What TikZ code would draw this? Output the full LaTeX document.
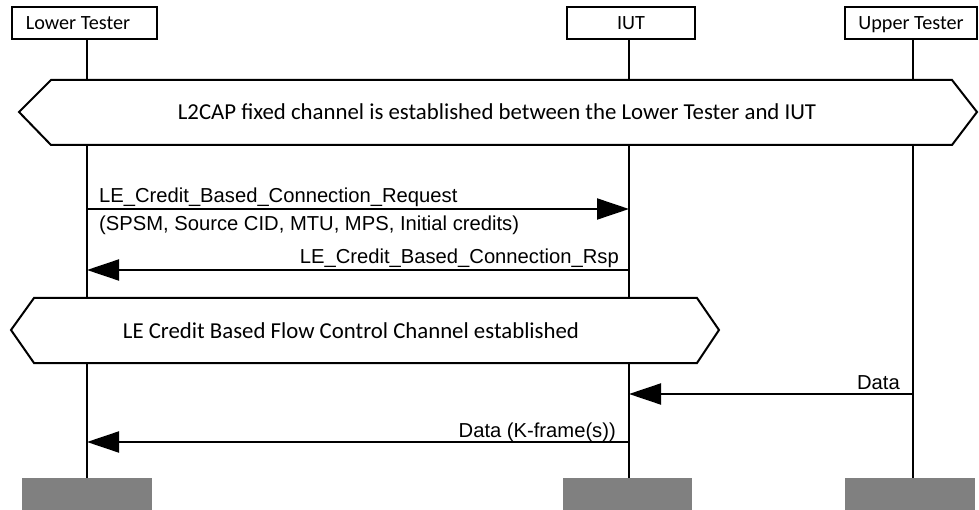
\documentclass[tikz,border=0pt]{standalone}
\usepackage{fontspec}
\setmainfont{Carlito}
\newfontfamily\arialf{Liberation Sans}
\usetikzlibrary{arrows.meta}
\begin{document}
\begin{tikzpicture}[x=1pt,y=-1pt,
  actor/.style={draw=black,line width=2pt,fill=white,minimum width=145pt,minimum height=32pt,inner sep=0pt,text height=13pt,text depth=0pt,font=\fontsize{20.2}{23}\selectfont},
  endbox/.style={fill=black!50,draw=none,minimum width=130pt,minimum height=32pt,inner sep=0pt},
  life/.style={line width=2pt},
  hexa/.style={draw=black,line width=2pt,fill=white,line join=miter},
  hextext/.style={font=\fontsize{22.8}{26}\selectfont,inner sep=0pt},
  msg/.style={line width=2pt,-{Triangle[length=32pt,width=21pt]}},
  lbl/.style={font=\arialf\fontsize{20.2}{23}\selectfont,inner sep=0pt}
]
\useasboundingbox (0,0) rectangle (979,510);
% actors
\node[actor,minimum width=145pt] (lt) at (84.5,23) {\hspace*{-13pt}Lower Tester};
\node[actor,minimum width=128pt] (iut) at (631,23) {IUT};
\node[actor,minimum width=132pt] (ut) at (911,23) {Upper Tester};
% end boxes
\node[endbox,minimum width=130pt,anchor=north west] (ltend) at (22,478) {};
\node[endbox,minimum width=129pt,anchor=north west] (iutend) at (563,478) {};
\node[endbox,minimum width=130pt,anchor=north west] (utend) at (845,478) {};
% lifeline x positions
\coordinate (LX) at (87,0);
\coordinate (IX) at (629,0);
\coordinate (UX) at (913,0);
\draw[life] (lt.south -| LX) -- (ltend.north -| LX);
\draw[life] (iut.south -| IX) -- (iutend.north -| IX);
\draw[life] (ut.south -| UX) -- (utend.north -| UX);
% hexagon 1
\draw[hexa] (19,112) -- (51,80) -- (952,80) -- (977,112) -- (952,145) -- (51,145) -- cycle;
\node[hextext] (h1) at (497,112) {L2CAP fixed channel is established between the Lower Tester and IUT};
% hexagon 2
\draw[hexa] (11,330) -- (34,298) -- (697,298) -- (719,330) -- (697,363) -- (34,363) -- cycle;
\node[hextext] (h2) at (351,331) {LE Credit Based Flow Control Channel established};
% message endpoints
\coordinate (m1a) at (87,209); \coordinate (m1b) at (629,209);
\coordinate (m2a) at (629,270); \coordinate (m2b) at (87,270);
\coordinate (m3a) at (913,394); \coordinate (m3b) at (629,394);
\coordinate (m4a) at (629,442); \coordinate (m4b) at (87,442);
\draw[msg] (m1a) -- (m1b);
\draw[msg] (m2a) -- (m2b);
\draw[msg] (m3a) -- (m3b);
\draw[msg] (m4a) -- (m4b);
% labels
\node[lbl,anchor=base west] (l1) at (99,203) {LE\_Credit\_Based\_Connection\_Request};
\node[lbl,anchor=base west] (l1b) at (99,231) {(SPSM, Source CID, MTU, MPS, Initial credits)};
\node[lbl,anchor=base east] (l2) at (619,264) {LE\_Credit\_Based\_Connection\_Rsp};
\node[lbl,anchor=base east] (l3) at (900,389) {Data};
\node[lbl,anchor=base east] (l4) at (616,437) {Data (K-frame(s))};
\end{tikzpicture}
\end{document}
